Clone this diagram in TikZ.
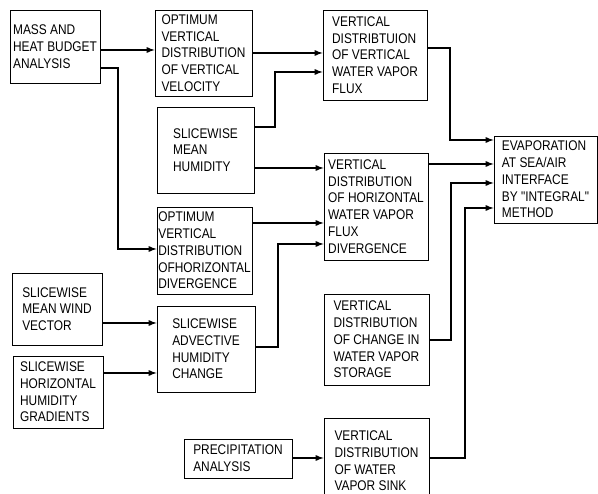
\documentclass[tikz,border=0pt]{standalone}
\usepackage{fontspec}
\newfontfamily\boxfont[FakeStretch=0.85]{Liberation Sans}
\usetikzlibrary{arrows}

\begin{document}
\begin{tikzpicture}[x=1pt,y=-1pt,
  blk/.style={draw,line width=0.8pt,align=left,inner sep=0pt,
    font=\boxfont\fontsize{14}{16.7}\selectfont},
  lnk/.style={line width=1.7pt,-latex}]
  \useasboundingbox (0,0) rectangle (598,494);
  \node[blk,minimum width=90pt,minimum height=73pt] (B-1) at (55,46.5) {MASS AND\\HEAT BUDGET\\ANALYSIS};
  \node[blk,minimum width=97pt,minimum height=86pt] (B-2) at (203.5,53) {OPTIMUM\\VERTICAL\\DISTRIBUTION\\OF VERTICAL\\VELOCITY};
  \node[blk,minimum width=97pt,minimum height=86pt] (B-3) at (205.5,150) {SLICEWISE\\MEAN\\HUMIDITY};
  \node[blk,minimum width=95pt,minimum height=87pt] (B-4) at (204.5,250.5) {OPTIMUM\\VERTICAL\\DISTRIBUTION\\OFHORIZONTAL\\DIVERGENCE};
  \node[blk,minimum width=104pt,minimum height=90pt] (B-5) at (375,55) {VERTICAL\\DISTRIBTUION\\OF VERTICAL\\WATER VAPOR\\FLUX};
  \node[blk,minimum width=104pt,minimum height=107pt] (B-6) at (376,206.5) {VERTICAL\\DISTRIBUTION\\OF HORIZONTAL\\WATER VAPOR\\FLUX\\DIVERGENCE};
  \node[blk,minimum width=103pt,minimum height=87pt] (B-7) at (545.5,179.5) {EVAPORATION\\AT SEA/AIR\\INTERFACE\\BY "INTEGRAL"\\METHOD};
  \node[blk,minimum width=90pt,minimum height=72pt] (B-8) at (57,309) {SLICEWISE\\MEAN WIND\\VECTOR};
  \node[blk,minimum width=90pt,minimum height=72pt] (B-9) at (58,392) {SLICEWISE\\HORIZONTAL\\HUMIDITY\\GRADIENTS};
  \node[blk,minimum width=98pt,minimum height=86pt] (B-10) at (206,349) {SLICEWISE\\ADVECTIVE\\HUMIDITY\\CHANGE};
  \node[blk,minimum width=105pt,minimum height=91pt] (B-11) at (376.5,339.5) {VERTICAL\\DISTRIBUTION\\OF CHANGE IN\\WATER VAPOR\\STORAGE};
  \node[blk,minimum width=108pt,minimum height=39pt] (B-12) at (238,458.5) {PRECIPITATION\\ANALYSIS};
  \node[blk,minimum width=105pt,minimum height=86pt] (B-13) at (376.5,461) {VERTICAL\\DISTRIBUTION\\OF WATER\\VAPOR SINK};
  \draw[lnk] (B-1.east |- 0,50) -- (B-2.west |- 0,50);
  \draw[lnk] (B-1.east |- 0,68) -- (118,68) |- (B-4.west |- 0,249);
  \draw[lnk] (B-2.east |- 0,53) -- (B-5.west |- 0,53);
  \draw[lnk] (B-3.east |- 0,127) -- (275,127) |- (B-5.west |- 0,72);
  \draw[lnk] (B-3.east |- 0,168) -- (B-6.west |- 0,168);
  \draw[lnk] (B-4.east |- 0,223) -- (B-6.west |- 0,223);
  \draw[lnk] (B-10.east |- 0,347) -- (278,347) |- (B-6.west |- 0,244);
  \draw[lnk] (B-5.east |- 0,48) -- (450,48) |- (B-7.west |- 0,140);
  \draw[lnk] (B-6.east |- 0,164) -- (B-7.west |- 0,164);
  \draw[lnk] (B-11.east |- 0,340) -- (451,340) |- (B-7.west |- 0,183);
  \draw[lnk] (B-13.east |- 0,458) -- (465,458) |- (B-7.west |- 0,208);
  \draw[lnk] (B-8.east |- 0,323) -- (B-10.west |- 0,323);
  \draw[lnk] (B-9.east |- 0,373) -- (B-10.west |- 0,373);
  \draw[lnk] (B-12.east |- 0,458) -- (B-13.west |- 0,458);
\end{tikzpicture}
\end{document}
